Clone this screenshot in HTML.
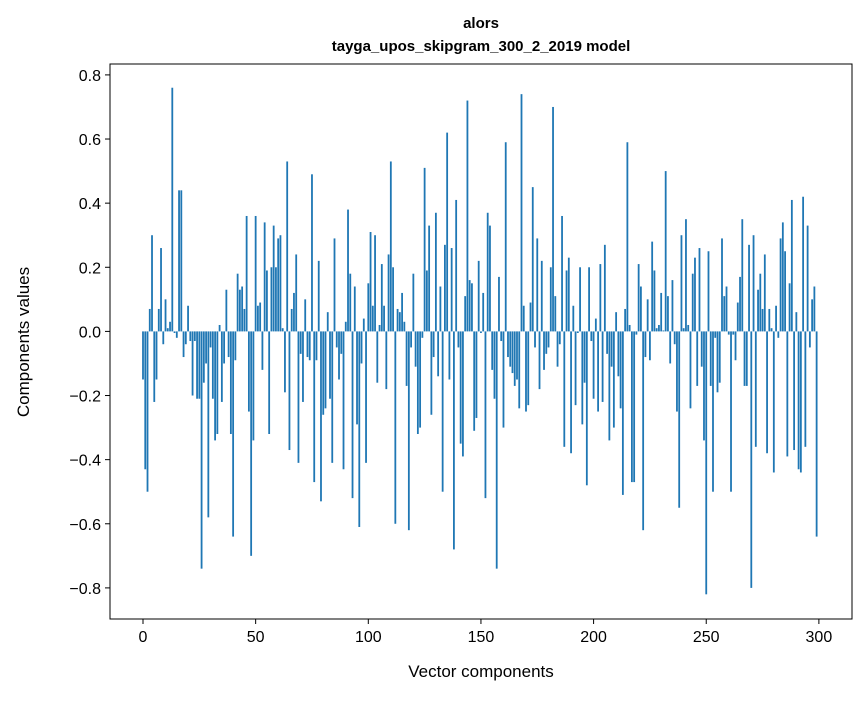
<!DOCTYPE html>
<html><head><meta charset="utf-8"><style>
html,body{margin:0;padding:0;background:#fff;}
svg text{font-family:"Liberation Sans","DejaVu Sans",sans-serif;fill:#000;}
</style></head><body>
<svg id="chart" width="867" height="696" viewBox="0 0 867 696" xmlns="http://www.w3.org/2000/svg">
<text x="481" y="28" text-anchor="middle" font-size="15" font-weight="bold">alors</text>
<text x="481" y="51" text-anchor="middle" font-size="15" font-weight="bold">tayga_upos_skipgram_300_2_2019 model</text>
<g id="bars"></g>
<g id="xticks"></g>
<g id="yticks"></g>
<rect x="110" y="64" width="742" height="555" fill="none" stroke="#000" stroke-width="1"/>
<text x="481" y="677" text-anchor="middle" font-size="17">Vector components</text>
<text x="0" y="0" transform="translate(29,342) rotate(-90)" text-anchor="middle" font-size="17">Components values</text>
</svg>
<script>
const values = [
-0.15,-0.43,-0.50,0.07,0.30,-0.22,-0.15,0.07,0.26,-0.04,
0.10,0.01,0.03,0.76,-0.005,-0.02,0.44,0.44,-0.08,-0.04,
0.08,-0.03,-0.20,-0.03,-0.21,-0.21,-0.74,-0.16,-0.10,-0.58,
-0.05,-0.21,-0.34,-0.32,0.02,-0.22,-0.10,0.13,-0.08,-0.32,
-0.64,-0.09,0.18,0.13,0.14,0.07,0.36,-0.25,-0.70,-0.34,
0.36,0.08,0.09,-0.12,0.34,0.19,-0.32,0.20,0.33,0.20,
0.29,0.30,0.01,-0.19,0.53,-0.37,0.07,0.12,0.24,-0.41,
-0.07,-0.22,0.10,-0.08,-0.09,0.49,-0.47,-0.09,0.22,-0.53,
-0.26,-0.24,0.06,-0.21,-0.41,0.29,-0.05,-0.15,-0.07,-0.43,
0.03,0.38,0.18,-0.52,0.14,-0.29,-0.61,-0.10,0.04,-0.41,
0.15,0.31,0.08,0.30,-0.16,0.02,0.21,0.08,-0.18,0.24,
0.53,0.20,-0.60,0.07,0.06,0.12,0.03,-0.17,-0.62,-0.05,
0.18,-0.11,-0.32,-0.30,-0.02,0.51,0.19,0.33,-0.26,-0.08,
0.37,-0.14,0.14,-0.50,0.27,0.62,-0.15,0.26,-0.68,0.41,
-0.05,-0.35,-0.39,0.11,0.72,0.16,0.15,-0.31,-0.27,0.22,
-0.005,0.12,-0.52,0.37,0.33,-0.12,-0.21,-0.74,0.17,-0.03,
-0.30,0.59,-0.08,-0.11,-0.13,-0.17,-0.15,-0.24,0.74,0.08,
-0.25,-0.23,0.09,0.45,-0.05,0.29,-0.18,0.22,-0.12,-0.07,
-0.05,0.20,0.70,0.11,-0.11,-0.04,0.36,-0.36,0.19,0.23,
-0.38,0.08,-0.23,-0.005,0.20,-0.29,-0.16,-0.48,0.20,-0.03,
-0.21,0.04,-0.25,0.21,-0.22,0.27,-0.07,-0.34,-0.11,-0.30,
0.06,-0.14,-0.24,-0.51,0.07,0.59,0.02,-0.47,-0.47,-0.01,
0.21,0.14,-0.62,-0.08,0.10,-0.09,0.28,0.19,0.01,0.02,
0.12,0.003,0.50,0.11,-0.10,0.16,-0.04,-0.25,-0.55,0.30,
0.01,0.35,0.02,-0.24,0.18,0.23,-0.17,0.26,-0.11,-0.34,
-0.82,0.25,-0.17,-0.50,-0.02,-0.19,-0.16,0.29,0.11,0.14,
-0.01,-0.50,-0.01,-0.09,0.09,0.17,0.35,-0.17,-0.17,0.27,
-0.80,0.30,-0.36,0.13,0.18,0.07,0.24,-0.38,0.07,0.01,
-0.44,0.08,-0.02,0.29,0.34,0.25,-0.39,0.15,0.41,-0.37,
0.06,-0.43,-0.44,0.42,-0.36,0.33,-0.05,0.10,0.14,-0.64
];
const xTicks = [0,50,100,150,200,250,300];
const yTicks = [-0.8,-0.6,-0.4,-0.2,0.0,0.2,0.4,0.6,0.8];
const yTickLabels = ["−0.8","−0.6","−0.4","−0.2","0.0","0.2","0.4","0.6","0.8"];

const NS="http://www.w3.org/2000/svg";
const X0=110,X1=852,Y0=64,Y1=619;
const xMin=-14.65,xMax=314.7,yMin=-0.897,yMax=0.834;
function xs(v){return X0+(v-xMin)/(xMax-xMin)*(X1-X0);}
function ys(v){return Y1-(v-yMin)/(yMax-yMin)*(Y1-Y0);}
function mk(tag,attrs,parent){const e=document.createElementNS(NS,tag);for(const k in attrs)e.setAttribute(k,attrs[k]);parent.appendChild(e);return e;}
const gb=document.getElementById('bars');
const bw=xs(0.8)-xs(0);
values.forEach((v,i)=>{
  const y=Math.min(ys(v),ys(0));const h=Math.abs(ys(v)-ys(0));
  const r=mk('rect',{x:xs(i)-bw/2,y:y,width:bw,height:Math.max(h,0.3),fill:'#1f77b4'},gb);
  
  
});
const gx=document.getElementById('xticks');
xTicks.forEach(t=>{
  const l=mk('line',{x1:xs(t),x2:xs(t),y1:Y1,y2:Y1+5,stroke:'#000'},gx);
  
  
  const tx=mk('text',{x:xs(t),y:Y1+23,'text-anchor':'middle','font-size':'16'},gx);
  tx.textContent=String(t);
  
  
});
const gy=document.getElementById('yticks');
yTicks.forEach((t,i)=>{
  const l=mk('line',{x1:X0-5,x2:X0,y1:ys(t),y2:ys(t),stroke:'#000'},gy);
  
  
  const tx=mk('text',{x:X0-9,y:ys(t)+6,'text-anchor':'end','font-size':'16'},gy);
  tx.textContent=yTickLabels[i];
  
  
});
</script>
</body></html>
